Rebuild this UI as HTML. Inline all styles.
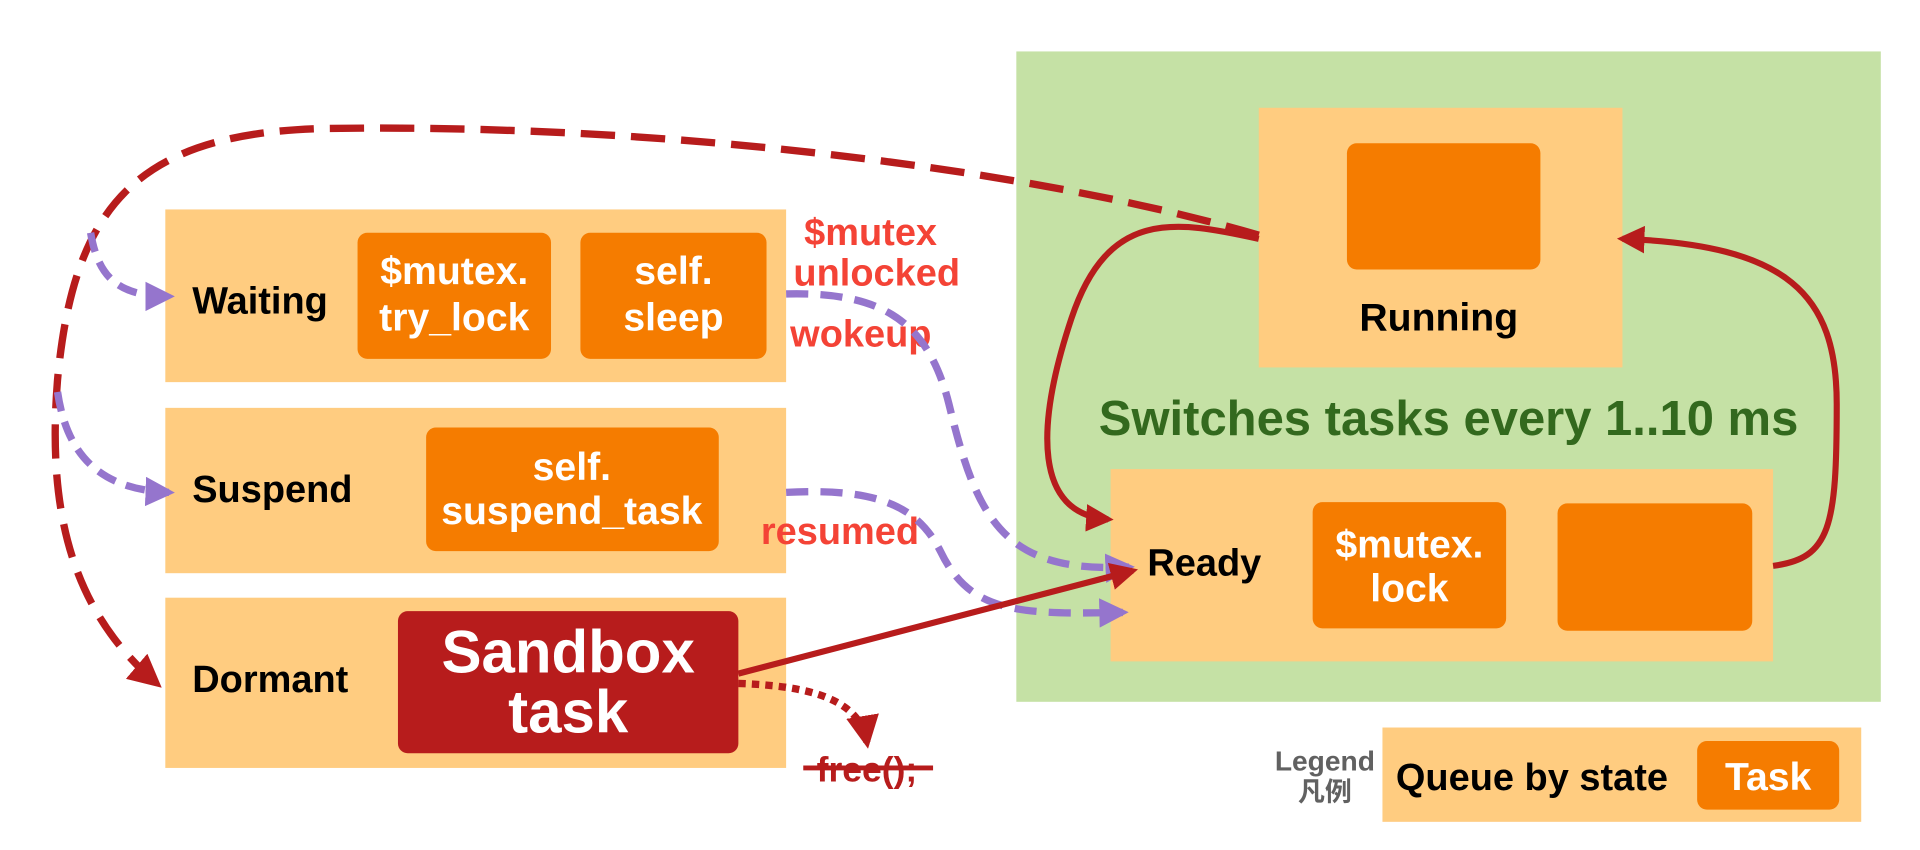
<!DOCTYPE html>
<html><head><meta charset="utf-8"><style>
html,body{margin:0;padding:0;background:#fff;}
svg{display:block;}
text{font-family:"Liberation Sans","Noto Sans CJK SC",sans-serif;font-weight:bold;}
</style></head><body>
<svg width="1920" height="850" viewBox="0 0 1568 694" preserveAspectRatio="none" xmlns="http://www.w3.org/2000/svg">
<defs>
<marker id="ar" viewBox="0 0 10 10" refX="8" refY="5" markerWidth="4.5" markerHeight="4.5" orient="auto" markerUnits="strokeWidth"><path d="M0,0 L10,5 L0,10 z" fill="#b71c1c"/></marker>
<marker id="ap" viewBox="0 0 10 10" refX="8" refY="5" markerWidth="4" markerHeight="4" orient="auto" markerUnits="strokeWidth"><path d="M0,0 L10,5 L0,10 z" fill="#9575cd"/></marker>
</defs>
<rect x="830" y="42" width="706" height="531" fill="#c5e1a5"/>
<rect x="1028" y="88" width="297" height="212" fill="#ffcc80"/>
<rect x="1100" y="117" width="158" height="103" rx="8" fill="#f57c00"/>
<text x="1175" y="270" font-size="32" text-anchor="middle" fill="#000">Running</text>
<text x="1183" y="355" font-size="40" text-anchor="middle" fill="#33691e">Switches tasks every 1..10 ms</text>
<rect x="907" y="383" width="541" height="157" fill="#ffcc80"/>
<text x="937" y="470" font-size="31" fill="#000">Ready</text>
<rect x="1072" y="410" width="158" height="103" rx="8" fill="#f57c00"/>
<text x="1151" y="455" font-size="32" text-anchor="middle" fill="#fff">$mutex.</text>
<text x="1151" y="491" font-size="32" text-anchor="middle" fill="#fff">lock</text>
<rect x="1272" y="411" width="159" height="104" rx="8" fill="#f57c00"/>

<rect x="135" y="171" width="507" height="141" fill="#ffcc80"/>
<text x="157" y="256" font-size="31" fill="#000">Waiting</text>
<rect x="292" y="190" width="158" height="103" rx="8" fill="#f57c00"/>
<text x="371" y="232" font-size="32" text-anchor="middle" fill="#fff">$mutex.</text>
<text x="371" y="270" font-size="32" text-anchor="middle" fill="#fff">try_lock</text>
<rect x="474" y="190" width="152" height="103" rx="8" fill="#f57c00"/>
<text x="550" y="232" font-size="32" text-anchor="middle" fill="#fff">self.</text>
<text x="550" y="270" font-size="32" text-anchor="middle" fill="#fff">sleep</text>

<rect x="135" y="333" width="507" height="135" fill="#ffcc80"/>
<text x="157" y="410" font-size="31" fill="#000">Suspend</text>
<rect x="348" y="349" width="239" height="101" rx="8" fill="#f57c00"/>
<text x="467" y="392" font-size="32" text-anchor="middle" fill="#fff">self.</text>
<text x="467" y="428" font-size="32" text-anchor="middle" fill="#fff">suspend_task</text>

<rect x="135" y="488" width="507" height="139" fill="#ffcc80"/>
<text x="157" y="565" font-size="31" fill="#000">Dormant</text>
<rect x="325" y="499" width="278" height="116" rx="8" fill="#b71c1c"/>
<text x="464" y="549" font-size="49" text-anchor="middle" fill="#fff">Sandbox</text>
<text x="464" y="598" font-size="49" text-anchor="middle" fill="#fff">task</text>

<text x="711" y="200" font-size="31" text-anchor="middle" fill="#f44336">$mutex</text>
<text x="716" y="233" font-size="31" text-anchor="middle" fill="#f44336">unlocked</text>
<text x="703" y="283" font-size="31" text-anchor="middle" fill="#f44336">wokeup</text>
<text x="686" y="444" font-size="31" text-anchor="middle" fill="#f44336">resumed</text>
<text x="708" y="638" font-size="29" text-anchor="middle" fill="#b71c1c">free();</text>
<line x1="656" y1="627" x2="762" y2="627" stroke="#b71c1c" stroke-width="4"/>

<text x="1082" y="629" font-size="23" text-anchor="middle" fill="#616161">Legend</text>
<text x="1082" y="654" font-size="22" text-anchor="middle" fill="#616161">凡例</text>
<rect x="1129" y="594" width="391" height="77" fill="#ffcc80"/>
<text x="1140" y="645" font-size="31" fill="#000">Queue by state</text>
<rect x="1386" y="605" width="116" height="56" rx="8" fill="#f57c00"/>
<text x="1444" y="645" font-size="32" text-anchor="middle" fill="#fff">Task</text>

<g fill="none" stroke-linecap="butt">
<path d="M1028,192 C 850,140 550,100 260,105 C 110,110 60,170 47,310 C 38,420 60,500 128,558" stroke="#b71c1c" stroke-width="6" stroke-dasharray="28,13" marker-end="url(#ar)"/>
<path d="M74,190 C 80,225 95,242 138,242" stroke="#9575cd" stroke-width="6" stroke-dasharray="16,9" marker-end="url(#ap)"/>
<path d="M47,320 C 55,375 85,400 138,402" stroke="#9575cd" stroke-width="6" stroke-dasharray="16,9" marker-end="url(#ap)"/>
<path d="M642,240 C 720,238 758,262 775,330 C 798,425 820,468 922,463" stroke="#9575cd" stroke-width="6" stroke-dasharray="18,10" marker-end="url(#ap)"/>
<path d="M642,402 C 720,398 750,415 768,450 C 792,500 830,502 917,500" stroke="#9575cd" stroke-width="6" stroke-dasharray="18,10" marker-end="url(#ap)"/>
<path d="M603,550 L 925,466" stroke="#b71c1c" stroke-width="5" marker-end="url(#ar)"/>
<path d="M603,558 C 660,560 702,570 708,606" stroke="#b71c1c" stroke-width="6" stroke-dasharray="6,5" marker-end="url(#ar)"/>
<path d="M1028,195 C 960,180 905,170 875,260 C 845,350 845,420 905,424" stroke="#b71c1c" stroke-width="5" marker-end="url(#ar)"/>
<path d="M1448,462 C 1495,456 1500,430 1500,330 C 1500,240 1460,200 1325,195" stroke="#b71c1c" stroke-width="5" marker-end="url(#ar)"/>
</g>
</svg>
</body></html>
